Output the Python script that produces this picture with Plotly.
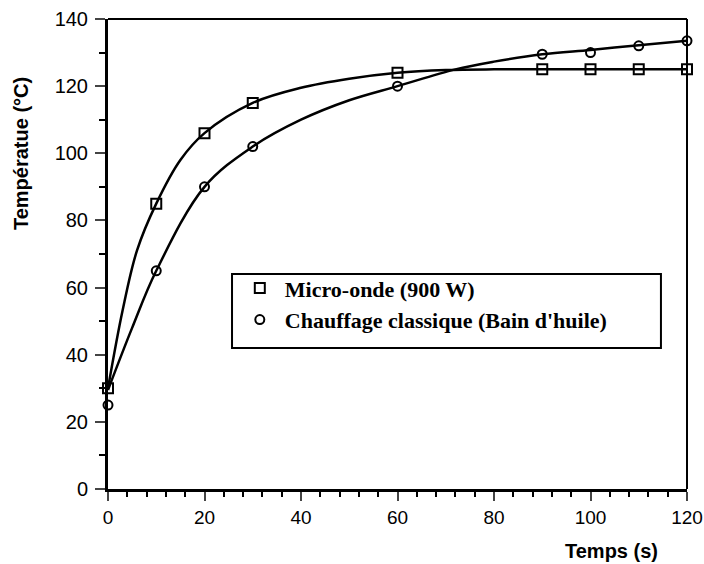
import plotly.graph_objects as go

# Measured points
temps_s = [0, 10, 20, 30, 60, 90, 100, 110, 120]
micro_onde = [30, 85, 106, 115, 124, 125, 125, 125, 125]
temps_c = [0, 10, 20, 30, 60, 90, 100, 110, 120]
classique = [25, 65, 90, 102, 120, 129.5, 130, 132, 133.5]

# Smoothed curves
micro_curve_x = [0, 3, 6, 10, 15, 20, 30, 40, 50, 60, 70, 80, 90, 100, 110, 120]
micro_curve_y = [30, 53, 71, 85, 98, 106, 115, 119.5, 122.2, 124, 124.8, 125, 125, 125, 125, 125]
classic_curve_x = [0, 5, 10, 20, 30, 40, 50, 60, 72, 80, 90, 100, 110, 120]
classic_curve_y = [29.5, 48, 65, 90, 102, 110, 115.8, 120, 125, 127.3, 129.5, 130.8, 132.2, 133.5]

x_ticks = [0, 20, 40, 60, 80, 100, 120]
y_ticks = [0, 20, 40, 60, 80, 100, 120, 140]

legend_names = ["<b>Micro-onde (900 W)</b>", "<b>Chauffage classique (Bain d'huile)</b>"]
x_title = "<b>Temps (s)</b>"
y_title = "<b>Températue (°C)</b>"

fig = go.Figure()
fig.add_trace(go.Scatter(x=micro_curve_x, y=micro_curve_y, mode="lines",
                         line=dict(color="black", width=2.5, shape="spline"),
                         showlegend=False, hoverinfo="skip"))
fig.add_trace(go.Scatter(x=classic_curve_x, y=classic_curve_y, mode="lines",
                         line=dict(color="black", width=2.5, shape="spline"),
                         showlegend=False, hoverinfo="skip"))
fig.add_trace(go.Scatter(x=temps_s, y=micro_onde, mode="markers", name=legend_names[0],
                         marker=dict(symbol="square-open", size=10, color="black",
                                     line=dict(width=2, color="black")), cliponaxis=False))
fig.add_trace(go.Scatter(x=temps_c, y=classique, mode="markers", name=legend_names[1],
                         marker=dict(symbol="circle-open", size=9, color="black",
                                     line=dict(width=2, color="black")), cliponaxis=False))

# top / right frame (thinner than the axes)
fig.add_shape(type="line", xref="x domain", yref="y domain", x0=0, x1=1, y0=1, y1=1,
              line=dict(color="black", width=2))
fig.add_shape(type="line", xref="x domain", yref="y domain", x0=1, x1=1, y0=0, y1=1,
              line=dict(color="black", width=2))
# legend frame
fig.add_shape(type="rect", xref="x domain", yref="y domain", x0=0.2142, x1=0.955,
              y0=0.300, y1=0.4574, line=dict(color="black", width=2), fillcolor="white",
              layer="below")

fig.add_annotation(text=x_title, xref="x domain", yref="y domain", x=0.869, y=-0.132,
                   showarrow=False, font=dict(size=20), xanchor="center", yanchor="middle")
fig.add_annotation(text=y_title, xref="x domain", yref="y domain", x=-0.150, y=0.713,
                   showarrow=False, font=dict(size=20), textangle=-90,
                   xanchor="center", yanchor="middle")

fig.update_layout(
    width=704, height=564,
    margin=dict(l=108, r=17, t=19, b=75, autoexpand=False),
    paper_bgcolor="white", plot_bgcolor="white",
    font=dict(family="Liberation Sans, Arial, sans-serif", color="black", size=18),
    legend=dict(x=0.219, y=0.472, xanchor="left", yanchor="top",
                borderwidth=0, bgcolor="rgba(0,0,0,0)", itemwidth=40,
                font=dict(family="Liberation Serif, Times New Roman, serif", size=22, color="black"),
                tracegroupgap=0),
    xaxis=dict(range=[0, 120], tickvals=x_ticks, ticks="outside", ticklen=9, tickwidth=2,
               showline=True, linewidth=3, linecolor="black", showgrid=False, zeroline=False,
               automargin=False,
               minor=dict(dtick=4, ticks="outside", ticklen=5, tickwidth=2, tickcolor="black"),
               tickfont=dict(size=19)),
    yaxis=dict(range=[0, 140], tickvals=y_ticks, ticks="outside", ticklen=10, tickwidth=2,
               showline=True, linewidth=3, linecolor="black", showgrid=False, zeroline=False,
               automargin=False, ticklabelstandoff=3,
               minor=dict(dtick=10, ticks="outside", ticklen=6, tickwidth=2, tickcolor="black"),
               tickfont=dict(size=20)),
)

fig.write_html("out.html", config={"displayModeBar": False},
               post_script="document.body.style.margin='0';document.body.style.overflow='hidden';")
